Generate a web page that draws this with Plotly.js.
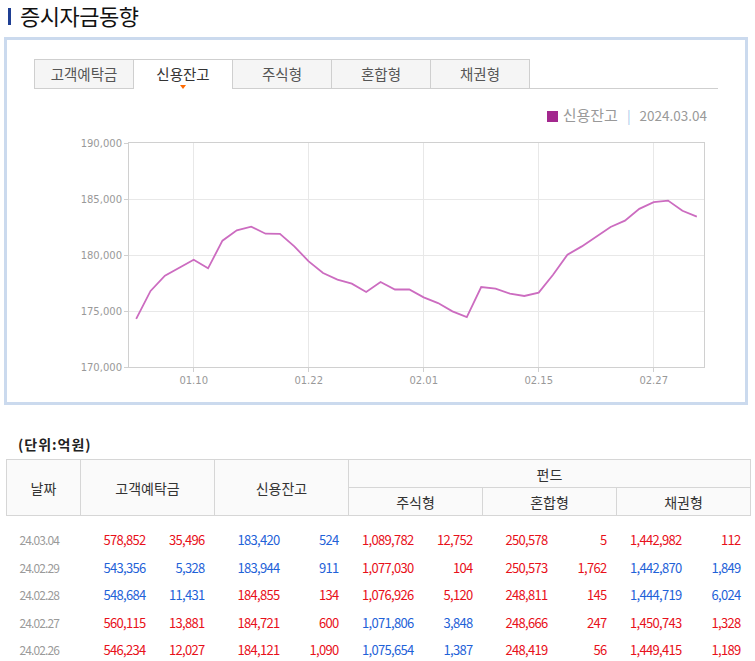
<!DOCTYPE html>
<html>
<head>
<meta charset="utf-8">
<script src="https://cdn.plot.ly/plotly-3.0.1.min.js"></script>
<style>
  html, body { margin:0; padding:0; background:#fff; }
  body { width:755px; height:661px; position:relative; overflow:hidden; font-family:"Noto Sans CJK KR","Noto Sans",sans-serif; }
  .abs { position:absolute; }
  #titlebar { left:8px; top:8px; width:3px; height:17px; background:#1f3f93; }
  #title { left:20px; top:0px; font-size:22px; color:#111; line-height:30px; letter-spacing:-0.5px; }
  #box { left:4px; top:37px; width:738px; height:362px; border:3px solid #cbdaee; background:#fff; }
  .tab { top:59px; height:28px; width:98px; border:1px solid #cfcfcf; border-bottom:none; background:#f5f5f5; color:#555; font-size:14.5px; line-height:28px; text-align:center; box-sizing:content-box; }
  .tab.on { background:#fff; color:#333; height:29px; z-index:2; }
  #tabline { left:34px; top:88px; width:684px; height:1px; background:#cfcfcf; }
  #tri { left:180px; top:85px; width:0; height:0; border-left:3.5px solid transparent; border-right:3.5px solid transparent; border-top:4px solid #ff6a00; z-index:3; }
  #legend { right:48px; top:105px; font-size:13.5px; color:#999; line-height:20px; white-space:nowrap; }
  #legend .sq { display:inline-block; width:11px; height:11px; background:#a3288e; vertical-align:-1px; margin-right:5px; }
  #legend .ko { font-size:15px; }
  #legend .sep { color:#a9c9ea; margin:0 9px; }
  #chart { left:0px; top:100px; width:755px; height:300px; }
  #unit { left:18px; top:432px; font-size:14px; font-weight:bold; color:#222; line-height:24px; letter-spacing:1px; }
  #tbl { left:6px; top:459px; border-collapse:collapse; table-layout:fixed; }
  #tbl th { font-weight:normal; color:#333; font-size:14px; background:#fafafa; border:1px solid #d6d6d6; padding:0; }
  #tbl td { padding:0; font-size:13px; letter-spacing:-0.7px; text-align:right; height:27.6px; line-height:27.6px; white-space:nowrap; }
  #tbl td.d { text-align:left; padding-left:13px; color:#9a9a9a; font-size:12px; letter-spacing:-0.9px; }
  #tbl td.v { padding-right:2px; }
  #tbl td.c { padding-right:10px; }
  .up { color:#e8101a; }
  .dn { color:#1f62d8; }
</style>
</head>
<body>
<div id="titlebar" class="abs"></div>
<div id="title" class="abs">증시자금동향</div>
<div id="box" class="abs"></div>
<div id="tabs"></div>
<div id="tabline" class="abs"></div>
<div id="tri" class="abs"></div>
<div id="legend" class="abs"><span class="sq"></span><span class="ko">신용잔고</span><span class="sep">|</span>2024.03.04</div>
<div id="chart" class="abs"></div>
<div id="unit" class="abs">(단위:억원)</div>
<table id="tbl" class="abs"></table>
<script>
// ---- chart data ----
const tabNames = ['고객예탁금','신용잔고','주식형','혼합형','채권형'];
const activeTab = 1;
const dates = ['01.04','01.05','01.08','01.09','01.10','01.11','01.12','01.15','01.16','01.17',
               '01.18','01.19','01.22','01.23','01.24','01.25','01.26','01.29','01.30','01.31',
               '02.01','02.02','02.05','02.06','02.07','02.08','02.13','02.14','02.15','02.16',
               '02.19','02.20','02.21','02.22','02.23','02.26','02.27','02.28','02.29','03.04'];
const credit = [174300,176790,178150,178840,179580,178810,181280,182200,182530,181900,
                181880,180770,179430,178390,177800,177440,176700,177590,176920,176930,
                176220,175710,174970,174460,177140,176990,176550,176340,176640,178240,
                180030,180770,181670,182500,183070,184121,184721,184855,183944,183420];
const xTickLabels = ['01.10','01.22','02.01','02.15','02.27'];
const yTickVals = [170000,175000,180000,185000,190000];

// ---- table data ----
const tblDates = ['24.03.04','24.02.29','24.02.28','24.02.27','24.02.26'];
const deposit = [578852,543356,548684,560115,546234];
const depositChg = [35496,-5328,-11431,13881,12027];
const creditBal = [183420,183944,184855,184721,184121];
const creditChg = [-524,-911,134,600,1090];
const equityFund = [1089782,1077030,1076926,1071806,1075654];
const equityChg = [12752,104,5120,-3848,-1387];
const mixedFund = [250578,250573,248811,248666,248419];
const mixedChg = [5,1762,145,247,56];
const bondFund = [1442982,1442870,1444719,1450743,1449415];
const bondChg = [112,-1849,-6024,1328,1189];

// tabs
const tabsEl = document.getElementById('tabs');
tabNames.forEach((t,i)=>{
  const d = document.createElement('div');
  d.className = 'abs tab' + (i===activeTab?' on':'');
  d.style.left = (34 + i*99) + 'px';
  d.textContent = t;
  tabsEl.appendChild(d);
});

// chart
const trace = {
  x: dates, y: credit, type:'scatter', mode:'lines',
  line:{color:'#cc6cc0', width:1.8}, hoverinfo:'skip'
};
const layout = {
  width:755, height:300,
  margin:{l:129, r:51, t:43, b:33},
  paper_bgcolor:'rgba(0,0,0,0)', plot_bgcolor:'#fff',
  showlegend:false,
  font:{family:'DejaVu Sans', size:10, color:'#999'},
  xaxis:{
    type:'category', range:[-0.5, dates.length-0.5],
    tickmode:'array', tickvals:xTickLabels, ticktext:xTickLabels,
    showgrid:true, gridcolor:'#e8e8e8', gridwidth:1,
    showline:true, linecolor:'#d0d0d0', linewidth:1, mirror:true,
    ticks:'outside', ticklen:4, tickcolor:'#d0d0d0',
    tickfont:{family:'DejaVu Sans', size:10, color:'#999'}, zeroline:false, fixedrange:true
  },
  yaxis:{
    range:[170000,190000], tickmode:'array', tickvals:yTickVals,
    ticktext:yTickVals.map(v=>v.toLocaleString('en-US')),
    showgrid:true, gridcolor:'#e8e8e8', gridwidth:1,
    showline:true, linecolor:'#d0d0d0', linewidth:1, mirror:true,
    ticks:'outside', ticklen:4, tickcolor:'#d0d0d0',
    tickfont:{family:'DejaVu Sans', size:10, color:'#999'}, zeroline:false, fixedrange:true
  }
};
Plotly.newPlot('chart',[trace],layout,{displayModeBar:false, staticPlot:true});

// table
const fmt = v => Math.abs(v).toLocaleString('en-US');
const cls = c => c < 0 ? 'dn' : 'up';
let html = '<colgroup><col style="width:74px">';
for (let i=0;i<5;i++) html += '<col style="width:67px"><col style="width:67px">';
html += '</colgroup>';
html += '<tr style="height:28px"><th rowspan="2">날짜</th><th rowspan="2" colspan="2">고객예탁금</th><th rowspan="2" colspan="2">신용잔고</th><th colspan="6">펀드</th></tr>';
html += '<tr style="height:28px"><th colspan="2">주식형</th><th colspan="2">혼합형</th><th colspan="2">채권형</th></tr>';
html += '<tr><td colspan="11" style="height:10px;line-height:10px"></td></tr>';
const groups = [[deposit,depositChg],[creditBal,creditChg],[equityFund,equityChg],[mixedFund,mixedChg],[bondFund,bondChg]];
tblDates.forEach((d,r)=>{
  html += '<tr><td class="d">'+d+'</td>';
  groups.forEach(([vals,chg])=>{
    const c = cls(chg[r]);
    html += '<td class="v '+c+'">'+fmt(vals[r])+'</td><td class="c '+c+'">'+fmt(chg[r])+'</td>';
  });
  html += '</tr>';
});
document.getElementById('tbl').innerHTML = html;
</script>
</body>
</html>
